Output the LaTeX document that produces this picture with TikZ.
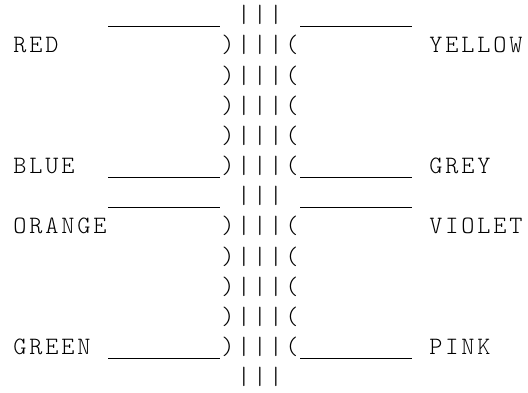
\documentclass[tikz,border=0pt]{standalone}
\usepackage{fontspec}
\newfontfamily\asciifont{Latin Modern Mono Light}
% one fixed 16pt cell per character
\def\monoloop#1{\ifx#1\relax\else\makebox[16pt][c]{#1}\expandafter\monoloop\fi}
\newcommand\monotext[1]{\monoloop#1\relax}
% underscore that fills its whole cell, as in Courier
\newcommand\usc{\rule[-4.2pt]{16pt}{1.1pt}}
\tikzset{
  cell/.style={anchor=base west, inner sep=0pt, outer sep=0pt, text=black,
    font=\asciifont\fontsize{25pt}{30pt}\selectfont}
}
% #1 name, #2 column, #3 row, #4 text
\newcommand\asciicell[4]{\node[cell] (#1) at ({(12+16*#2)*1pt},{(339-(#3-1)*30.15)*1pt}) {\monotext{#4}};}
\begin{document}
\begin{tikzpicture}
\fill[white] (0,0) rectangle (528pt,392pt);
\useasboundingbox (0,0) rectangle (528pt,392pt);
% row 0
\asciicell{topL}{6}{0}{\usc\usc\usc\usc\usc\usc\usc}
\asciicell{topM}{14}{0}{|||}
\asciicell{topR}{18}{0}{\usc\usc\usc\usc\usc\usc\usc}
% row 1
\asciicell{red}{0}{1}{RED}
\asciicell{m1}{13}{1}{)|||(}
\asciicell{yellow}{26}{1}{YELLOW}
% rows 2-4
\asciicell{m2}{13}{2}{)|||(}
\asciicell{m3}{13}{3}{)|||(}
\asciicell{m4}{13}{4}{)|||(}
% row 5
\asciicell{blue}{0}{5}{BLUE}
\asciicell{m5}{6}{5}{\usc\usc\usc\usc\usc\usc\usc)|||(\usc\usc\usc\usc\usc\usc\usc}
\asciicell{grey}{26}{5}{GREY}
% row 6
\asciicell{midL}{6}{6}{\usc\usc\usc\usc\usc\usc\usc}
\asciicell{midM}{14}{6}{|||}
\asciicell{midR}{18}{6}{\usc\usc\usc\usc\usc\usc\usc}
% row 7
\asciicell{orange}{0}{7}{ORANGE}
\asciicell{m7}{13}{7}{)|||(}
\asciicell{violet}{26}{7}{VIOLET}
% rows 8-10
\asciicell{m8}{13}{8}{)|||(}
\asciicell{m9}{13}{9}{)|||(}
\asciicell{m10}{13}{10}{)|||(}
% row 11
\asciicell{green}{0}{11}{GREEN}
\asciicell{m11}{6}{11}{\usc\usc\usc\usc\usc\usc\usc)|||(\usc\usc\usc\usc\usc\usc\usc}
\asciicell{pink}{26}{11}{PINK}
% row 12
\asciicell{botM}{14}{12}{|||}
\end{tikzpicture}
\end{document}
